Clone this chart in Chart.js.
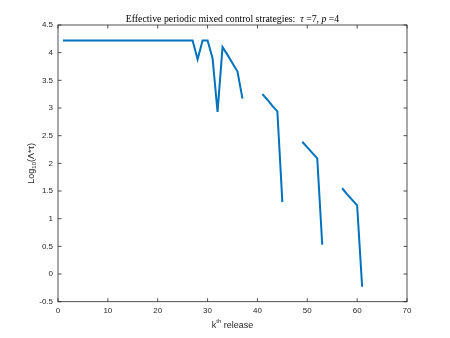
<!DOCTYPE html>
<html>
<head>
<meta charset="utf-8">
<script src="https://cdn.jsdelivr.net/npm/chart.js@4"></script>
<style>
  html, body { margin: 0; padding: 0; background: #fff; }
  #wrap { width: 450px; height: 338px; }
</style>
</head>
<body>
<div id="wrap"><canvas id="chart" width="450" height="338"></canvas></div>
<script>
// release index k
var releases = [];
for (var k = 1; k <= 61; k++) releases.push(k);

// log10(Lambda*tau) per release, null where no effective strategy
var logValues = [
  4.22, 4.22, 4.22, 4.22, 4.22, 4.22, 4.22, 4.22, 4.22, 4.22,   // 1-10
  4.22, 4.22, 4.22, 4.22, 4.22, 4.22, 4.22, 4.22, 4.22, 4.22,   // 11-20
  4.22, 4.22, 4.22, 4.22, 4.22, 4.22, 4.22, 3.88, 4.22, 4.22,   // 21-30
  3.90, 2.93, 4.10, 3.96, 3.81, 3.66, 3.17, null, null, null,   // 31-40
  3.25, 3.15, 3.04, 2.94, 1.30, null, null, null, 2.39, 2.29,   // 41-50
  2.19, 2.09, 0.53, null, null, null, 1.55, 1.44, 1.34, 1.24,   // 51-60
  -0.23                                                          // 61
];

var xTicks = [0, 10, 20, 30, 40, 50, 60, 70];
var yTicks = [-0.5, 0, 0.5, 1, 1.5, 2, 2.5, 3, 3.5, 4, 4.5];

var axisColor = "#262626";
var lineBlue = "#0072BD";

var points = releases.map(function(r, i) {
  return { x: r, y: logValues[i] };
});

// box, inward ticks and the text labels (MATLAB style)
var matlabFrame = {
  id: "matlabFrame",
  afterDraw: function(chart) {
    var ctx = chart.ctx;
    var a = chart.chartArea;
    var xs = chart.scales.x, ys = chart.scales.y;
    ctx.save();
    ctx.strokeStyle = axisColor;
    ctx.lineWidth = 0.8;
    ctx.strokeRect(a.left, a.top, a.right - a.left, a.bottom - a.top);
    ctx.beginPath();
    xTicks.forEach(function(v) {
      var px = xs.getPixelForValue(v);
      ctx.moveTo(px, a.bottom); ctx.lineTo(px, a.bottom - 3.5);
      ctx.moveTo(px, a.top); ctx.lineTo(px, a.top + 3.5);
    });
    yTicks.forEach(function(v) {
      var py = ys.getPixelForValue(v);
      ctx.moveTo(a.left, py); ctx.lineTo(a.left + 3.5, py);
      ctx.moveTo(a.right, py); ctx.lineTo(a.right - 3.5, py);
    });
    ctx.stroke();

    // title
    ctx.fillStyle = "#000";
    ctx.textBaseline = "alphabetic";
    var cx = (a.left + a.right) / 2;
    var tf = "9.8px 'Liberation Serif'", tfi = "italic 9.8px 'Liberation Serif'";
    var parts = [
      ["Effective periodic mixed control strategies:  ", tf],
      ["\u03C4", tfi],
      [" =7, ", tf],
      ["p", tfi],
      [" =4", tf]
    ];
    var total = 0;
    parts.forEach(function(p) { ctx.font = p[1]; total += ctx.measureText(p[0]).width; });
    var tx = cx - total / 2;
    ctx.textAlign = "left";
    parts.forEach(function(p) {
      ctx.font = p[1];
      ctx.fillText(p[0], tx, 21.5);
      tx += ctx.measureText(p[0]).width;
    });

    // x label: k^th release
    ctx.fillStyle = axisColor;
    var big = "9px 'Liberation Sans'", small = "6px 'Liberation Sans'";
    ctx.font = big; var wk = ctx.measureText("k").width;
    ctx.font = small; var wth = ctx.measureText("th").width;
    ctx.font = big; var wr = ctx.measureText(" release").width;
    var lx = cx - (wk + wth + wr) / 2;
    ctx.font = big; ctx.fillText("k", lx, 327.5);
    ctx.font = small; ctx.fillText("th", lx + wk, 323);
    ctx.font = big; ctx.fillText(" release", lx + wk + wth, 327.5);

    // y label: Log_10(Λ*τ)
    ctx.translate(33.5, (a.top + a.bottom) / 2);
    ctx.rotate(-Math.PI / 2);
    var ys1 = [["Log", big, 0], ["10", small, 2.5], ["(\u039B*\u03C4)", big, 0]];
    var tw = 0;
    ys1.forEach(function(p) { ctx.font = p[1]; tw += ctx.measureText(p[0]).width; });
    var yx = -tw / 2;
    ys1.forEach(function(p) {
      ctx.font = p[1];
      ctx.fillText(p[0], yx, p[2]);
      yx += ctx.measureText(p[0]).width;
    });
    ctx.restore();
  }
};

new Chart(document.getElementById("chart"), {
  type: "line",
  data: {
    datasets: [{
      data: points,
      borderColor: lineBlue,
      borderWidth: 2,
      pointRadius: 0,
      fill: false,
      spanGaps: false,
      tension: 0
    }]
  },
  options: {
    responsive: false,
    animation: false,
    devicePixelRatio: 1,
    layout: { padding: { top: 25, right: 43, left: 0, bottom: 0 } },
    plugins: { legend: { display: false }, tooltip: { enabled: false }, title: { display: false } },
    scales: {
      x: {
        type: "linear",
        min: 0, max: 70,
        afterFit: function(s) { s.height = 36.3; },
        afterBuildTicks: function(s) { s.ticks = xTicks.map(function(v) { return { value: v }; }); },
        grid: { display: false, drawTicks: false },
        border: { display: false },
        ticks: { padding: 4, color: axisColor, font: { family: "Liberation Sans", size: 8 }, maxRotation: 0 }
      },
      y: {
        type: "linear",
        min: -0.5, max: 4.5,
        afterFit: function(s) { s.width = 58; },
        afterBuildTicks: function(s) { s.ticks = yTicks.map(function(v) { return { value: v }; }); },
        grid: { display: false, drawTicks: false },
        border: { display: false },
        ticks: {
          padding: 5, color: axisColor,
          font: { family: "Liberation Sans", size: 8 },
          callback: function(v) { return String(v); }
        }
      }
    }
  },
  plugins: [matlabFrame]
});
</script>
</body>
</html>
